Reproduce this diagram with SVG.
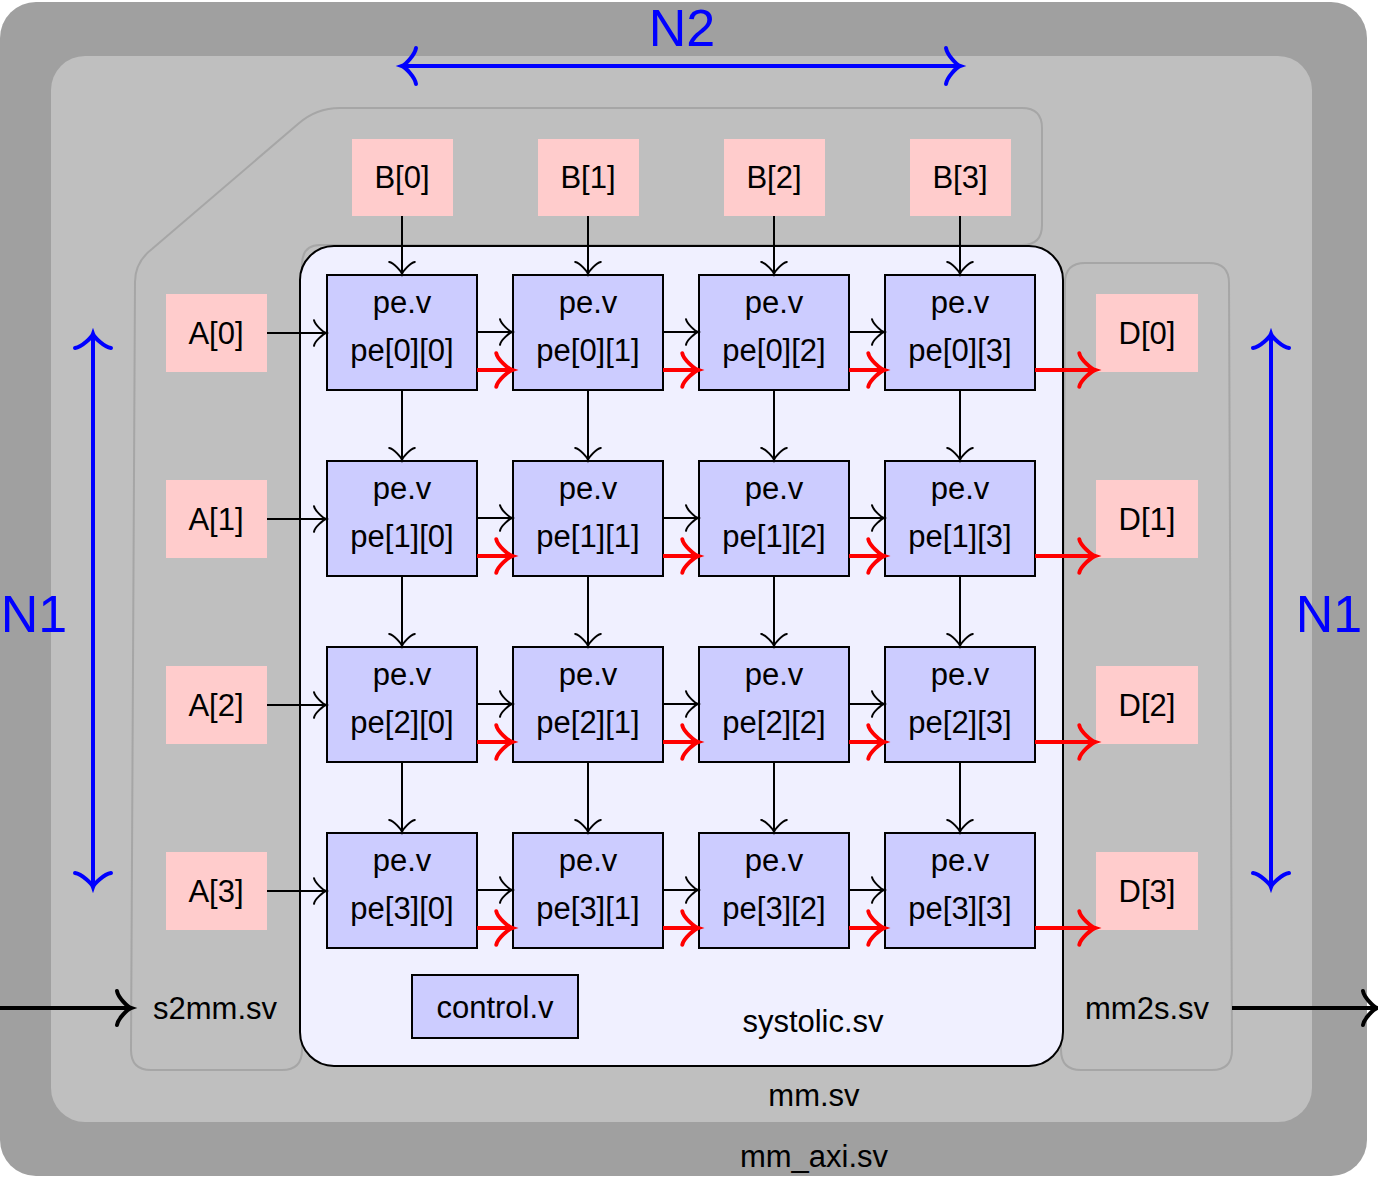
<svg xmlns="http://www.w3.org/2000/svg" width="1378" height="1182" viewBox="0 0 1378 1182">
<style>
text{font-family:"Liberation Sans",Arial,sans-serif;font-size:31px;fill:#000;text-anchor:middle}
.pe{fill:#ccccff;stroke:#000;stroke-width:2}
.io{fill:#ffcccc}
.big{font-size:52px;fill:#0000ff}
.blk{stroke:#000;stroke-width:2;fill:none;marker-end:url(#mb)}
.red{stroke:#ff0000;stroke-width:4;fill:none;marker-end:url(#mr)}
.blu{stroke:#0000ff;stroke-width:4;fill:none;marker-start:url(#mbs);marker-end:url(#mbl)}
.thk{stroke:#000;stroke-width:4;fill:none;marker-end:url(#mt)}
.reg{fill:none;stroke:#a6a6a6;stroke-width:2}
</style>
<defs>
<marker id="mb" markerUnits="userSpaceOnUse" orient="auto" refX="0" refY="0" markerWidth="40" markerHeight="40" overflow="visible"><path d="M-12,-12.8 C-11.2,-8 -2.4,-0.8 0,0 C-2.4,0.8 -11.2,8 -12,12.8" fill="none" stroke="#000" stroke-width="2" stroke-linecap="round"/></marker>
<marker id="mr" markerUnits="userSpaceOnUse" orient="auto" refX="0" refY="0" markerWidth="40" markerHeight="40" overflow="visible"><path d="M-15.7,-16.8 C-14.7,-10.5 -3.1,-1 0,0 C-3.1,1 -14.7,10.5 -15.7,16.8" fill="none" stroke="#ff0000" stroke-width="4" stroke-linecap="round"/></marker>
<marker id="mbl" markerUnits="userSpaceOnUse" orient="auto" refX="0" refY="0" markerWidth="40" markerHeight="40" overflow="visible"><path d="M-14,-18 C-13,-11 -3,-1 0,0 C-3,1 -13,11 -14,18" fill="none" stroke="#0000ff" stroke-width="4" stroke-linecap="round"/></marker>
<marker id="mbs" markerUnits="userSpaceOnUse" orient="auto-start-reverse" refX="0" refY="0" markerWidth="40" markerHeight="40" overflow="visible"><path d="M-14,-18 C-13,-11 -3,-1 0,0 C-3,1 -13,11 -14,18" fill="none" stroke="#0000ff" stroke-width="4" stroke-linecap="round"/></marker>
<marker id="mt" markerUnits="userSpaceOnUse" orient="auto" refX="0" refY="0" markerWidth="40" markerHeight="40" overflow="visible"><path d="M-14,-17 C-13,-10.5 -3,-1 0,0 C-3,1 -13,10.5 -14,17" fill="none" stroke="#000" stroke-width="4" stroke-linecap="round"/></marker>
</defs>

<g id="mm_axi"><rect x="0" y="2" width="1367" height="1174" rx="36" fill="#a0a0a0"/><text x="814" y="1167">mm_axi.sv</text></g>
<g id="mm"><rect x="51" y="56" width="1261" height="1066" rx="34" fill="#bfbfbf"/><text x="814" y="1106">mm.sv</text></g>
<g id="s2mm"><path class="reg" d="M151,1070 Q131,1070 131,1050 L135,282 Q135,262 152,249 L298,124 Q316,108 340,108 L1022,108 Q1042,108 1042,128 L1042,225 Q1042,245 1022,245 L320,245 Q302,245 302,265 L302,1050 Q302,1070 282,1070 Z"/><text x="215" y="1019">s2mm.sv</text></g>
<g id="mm2s"><path class="reg" d="M1085,263 L1209,263 Q1229,263 1229,283 L1232,1050 Q1232,1070 1212,1070 L1081,1070 Q1061,1070 1061,1050 L1065,283 Q1065,263 1085,263 Z"/><text x="1147" y="1019">mm2s.sv</text></g>
<g id="systolic"><rect x="300" y="246" width="763" height="820" rx="34" fill="#f0f0ff" stroke="#000" stroke-width="2"/><text x="813" y="1032">systolic.sv</text></g>
<g id="control"><rect class="pe" x="412" y="975" width="166" height="63"/><text x="495" y="1018">control.v</text></g>

<g id="B0"><rect class="io" x="352" y="139" width="101" height="77"/><text x="402" y="188">B[0]</text></g>
<g id="B1"><rect class="io" x="538" y="139" width="101" height="77"/><text x="588" y="188">B[1]</text></g>
<g id="B2"><rect class="io" x="724" y="139" width="101" height="77"/><text x="774" y="188">B[2]</text></g>
<g id="B3"><rect class="io" x="910" y="139" width="101" height="77"/><text x="960" y="188">B[3]</text></g>

<g id="A0"><rect class="io" x="166" y="294" width="101" height="78"/><text x="216" y="344">A[0]</text></g>
<g id="A1"><rect class="io" x="166" y="480" width="101" height="78"/><text x="216" y="530">A[1]</text></g>
<g id="A2"><rect class="io" x="166" y="666" width="101" height="78"/><text x="216" y="716">A[2]</text></g>
<g id="A3"><rect class="io" x="166" y="852" width="101" height="78"/><text x="216" y="902">A[3]</text></g>

<g id="D0"><rect class="io" x="1096" y="294" width="102" height="78"/><text x="1147" y="344">D[0]</text></g>
<g id="D1"><rect class="io" x="1096" y="480" width="102" height="78"/><text x="1147" y="530">D[1]</text></g>
<g id="D2"><rect class="io" x="1096" y="666" width="102" height="78"/><text x="1147" y="716">D[2]</text></g>
<g id="D3"><rect class="io" x="1096" y="852" width="102" height="78"/><text x="1147" y="902">D[3]</text></g>

<g id="pe00"><rect class="pe" x="327" y="275" width="150" height="115"/><text x="402" y="313">pe.v</text><text x="402" y="361">pe[0][0]</text></g>
<g id="pe01"><rect class="pe" x="513" y="275" width="150" height="115"/><text x="588" y="313">pe.v</text><text x="588" y="361">pe[0][1]</text></g>
<g id="pe02"><rect class="pe" x="699" y="275" width="150" height="115"/><text x="774" y="313">pe.v</text><text x="774" y="361">pe[0][2]</text></g>
<g id="pe03"><rect class="pe" x="885" y="275" width="150" height="115"/><text x="960" y="313">pe.v</text><text x="960" y="361">pe[0][3]</text></g>
<g id="pe10"><rect class="pe" x="327" y="461" width="150" height="115"/><text x="402" y="499">pe.v</text><text x="402" y="547">pe[1][0]</text></g>
<g id="pe11"><rect class="pe" x="513" y="461" width="150" height="115"/><text x="588" y="499">pe.v</text><text x="588" y="547">pe[1][1]</text></g>
<g id="pe12"><rect class="pe" x="699" y="461" width="150" height="115"/><text x="774" y="499">pe.v</text><text x="774" y="547">pe[1][2]</text></g>
<g id="pe13"><rect class="pe" x="885" y="461" width="150" height="115"/><text x="960" y="499">pe.v</text><text x="960" y="547">pe[1][3]</text></g>
<g id="pe20"><rect class="pe" x="327" y="647" width="150" height="115"/><text x="402" y="685">pe.v</text><text x="402" y="733">pe[2][0]</text></g>
<g id="pe21"><rect class="pe" x="513" y="647" width="150" height="115"/><text x="588" y="685">pe.v</text><text x="588" y="733">pe[2][1]</text></g>
<g id="pe22"><rect class="pe" x="699" y="647" width="150" height="115"/><text x="774" y="685">pe.v</text><text x="774" y="733">pe[2][2]</text></g>
<g id="pe23"><rect class="pe" x="885" y="647" width="150" height="115"/><text x="960" y="685">pe.v</text><text x="960" y="733">pe[2][3]</text></g>
<g id="pe30"><rect class="pe" x="327" y="833" width="150" height="115"/><text x="402" y="871">pe.v</text><text x="402" y="919">pe[3][0]</text></g>
<g id="pe31"><rect class="pe" x="513" y="833" width="150" height="115"/><text x="588" y="871">pe.v</text><text x="588" y="919">pe[3][1]</text></g>
<g id="pe32"><rect class="pe" x="699" y="833" width="150" height="115"/><text x="774" y="871">pe.v</text><text x="774" y="919">pe[3][2]</text></g>
<g id="pe33"><rect class="pe" x="885" y="833" width="150" height="115"/><text x="960" y="871">pe.v</text><text x="960" y="919">pe[3][3]</text></g>

<g id="labels"><text class="big" x="682" y="46">N2</text><text class="big" x="34" y="632">N1</text><text class="big" x="1329" y="632">N1</text></g>

<g id="connectors">
<path class="blu" d="M402,66 H960"/>
<path class="blu" d="M93,334 V887"/>
<path class="blu" d="M1271,334 V887"/>
<path class="thk" d="M0,1008 H131"/>
<path class="thk" d="M1232,1008 H1377"/>
<path class="blk" d="M402,216 V274"/><path class="blk" d="M588,216 V274"/><path class="blk" d="M774,216 V274"/><path class="blk" d="M960,216 V274"/>
<path class="blk" d="M267,333 H326"/><path class="blk" d="M267,519 H326"/><path class="blk" d="M267,705 H326"/><path class="blk" d="M267,891 H326"/>
<path class="blk" d="M477,332 H512"/><path class="blk" d="M663,332 H698"/><path class="blk" d="M849,332 H884"/>
<path class="blk" d="M477,518 H512"/><path class="blk" d="M663,518 H698"/><path class="blk" d="M849,518 H884"/>
<path class="blk" d="M477,704 H512"/><path class="blk" d="M663,704 H698"/><path class="blk" d="M849,704 H884"/>
<path class="blk" d="M477,890 H512"/><path class="blk" d="M663,890 H698"/><path class="blk" d="M849,890 H884"/>
<path class="blk" d="M402,390 V460"/><path class="blk" d="M588,390 V460"/><path class="blk" d="M774,390 V460"/><path class="blk" d="M960,390 V460"/>
<path class="blk" d="M402,576 V646"/><path class="blk" d="M588,576 V646"/><path class="blk" d="M774,576 V646"/><path class="blk" d="M960,576 V646"/>
<path class="blk" d="M402,762 V832"/><path class="blk" d="M588,762 V832"/><path class="blk" d="M774,762 V832"/><path class="blk" d="M960,762 V832"/>
<path class="red" d="M477,370 H512"/><path class="red" d="M663,370 H698"/><path class="red" d="M849,370 H884"/><path class="red" d="M1035,370 H1095"/>
<path class="red" d="M477,556 H512"/><path class="red" d="M663,556 H698"/><path class="red" d="M849,556 H884"/><path class="red" d="M1035,556 H1095"/>
<path class="red" d="M477,742 H512"/><path class="red" d="M663,742 H698"/><path class="red" d="M849,742 H884"/><path class="red" d="M1035,742 H1095"/>
<path class="red" d="M477,928 H512"/><path class="red" d="M663,928 H698"/><path class="red" d="M849,928 H884"/><path class="red" d="M1035,928 H1095"/>
</g>
</svg>
